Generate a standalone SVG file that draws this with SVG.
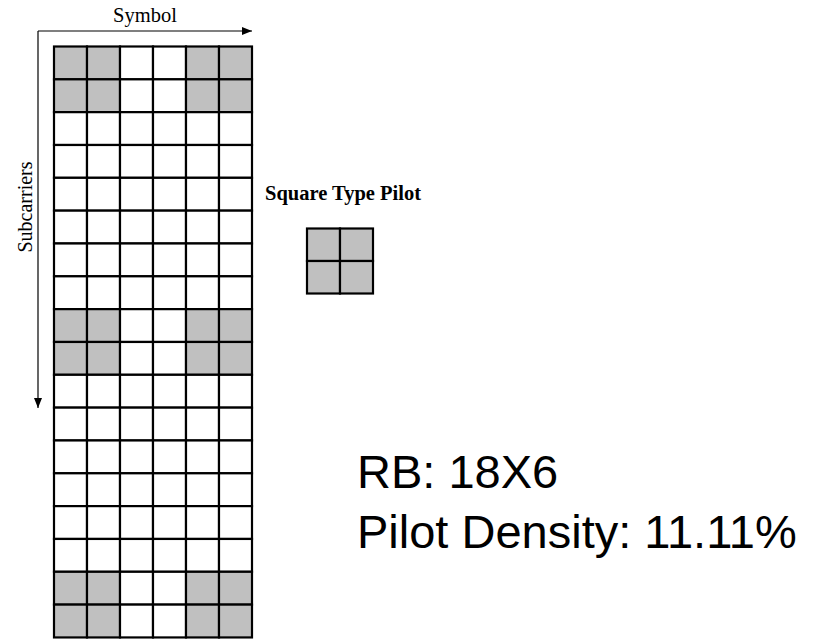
<svg xmlns="http://www.w3.org/2000/svg" width="840" height="639" viewBox="0 0 840 639">
<style>
.cell{stroke:#000;stroke-width:2.2}
.p{fill:#c0c0c0}
.w{fill:#fff}
.serif{font-family:"Liberation Serif","Times New Roman",serif;fill:#000}
.sans{font-family:"Liberation Sans",Arial,sans-serif;fill:#000}
.axis{stroke:#000;stroke-width:1.2;fill:none}
</style>
<defs>
<marker id="ah" markerWidth="10" markerHeight="8" refX="10" refY="4" orient="auto" markerUnits="userSpaceOnUse">
<path d="M0,0 L10,4 L0,8 Z" fill="#000"/>
</marker>
</defs>
<rect width="840" height="639" fill="#fff"/>
<g id="connectors">
<path class="axis" d="M38,31 H252" marker-end="url(#ah)"/>
<path class="axis" d="M38,31 V408" marker-end="url(#ah)"/>
</g>
<g id="labels">
<text class="serif" x="145" y="22" font-size="20.5" text-anchor="middle">Symbol</text>
<text class="serif" font-size="20" text-anchor="middle" transform="translate(32,207) rotate(-90)">Subcarriers</text>
</g>
<g id="rb-grid">
<g id="r0"><rect class="cell p" x="54" y="46.5" width="33" height="32.83"/><rect class="cell p" x="87" y="46.5" width="33" height="32.83"/><rect class="cell w" x="120" y="46.5" width="33" height="32.83"/><rect class="cell w" x="153" y="46.5" width="33" height="32.83"/><rect class="cell p" x="186" y="46.5" width="33" height="32.83"/><rect class="cell p" x="219" y="46.5" width="33" height="32.83"/></g>
<g id="r1"><rect class="cell p" x="54" y="79.33" width="33" height="32.83"/><rect class="cell p" x="87" y="79.33" width="33" height="32.83"/><rect class="cell w" x="120" y="79.33" width="33" height="32.83"/><rect class="cell w" x="153" y="79.33" width="33" height="32.83"/><rect class="cell p" x="186" y="79.33" width="33" height="32.83"/><rect class="cell p" x="219" y="79.33" width="33" height="32.83"/></g>
<g id="r2"><rect class="cell w" x="54" y="112.16" width="33" height="32.83"/><rect class="cell w" x="87" y="112.16" width="33" height="32.83"/><rect class="cell w" x="120" y="112.16" width="33" height="32.83"/><rect class="cell w" x="153" y="112.16" width="33" height="32.83"/><rect class="cell w" x="186" y="112.16" width="33" height="32.83"/><rect class="cell w" x="219" y="112.16" width="33" height="32.83"/></g>
<g id="r3"><rect class="cell w" x="54" y="144.99" width="33" height="32.83"/><rect class="cell w" x="87" y="144.99" width="33" height="32.83"/><rect class="cell w" x="120" y="144.99" width="33" height="32.83"/><rect class="cell w" x="153" y="144.99" width="33" height="32.83"/><rect class="cell w" x="186" y="144.99" width="33" height="32.83"/><rect class="cell w" x="219" y="144.99" width="33" height="32.83"/></g>
<g id="r4"><rect class="cell w" x="54" y="177.82" width="33" height="32.83"/><rect class="cell w" x="87" y="177.82" width="33" height="32.83"/><rect class="cell w" x="120" y="177.82" width="33" height="32.83"/><rect class="cell w" x="153" y="177.82" width="33" height="32.83"/><rect class="cell w" x="186" y="177.82" width="33" height="32.83"/><rect class="cell w" x="219" y="177.82" width="33" height="32.83"/></g>
<g id="r5"><rect class="cell w" x="54" y="210.65" width="33" height="32.83"/><rect class="cell w" x="87" y="210.65" width="33" height="32.83"/><rect class="cell w" x="120" y="210.65" width="33" height="32.83"/><rect class="cell w" x="153" y="210.65" width="33" height="32.83"/><rect class="cell w" x="186" y="210.65" width="33" height="32.83"/><rect class="cell w" x="219" y="210.65" width="33" height="32.83"/></g>
<g id="r6"><rect class="cell w" x="54" y="243.48" width="33" height="32.83"/><rect class="cell w" x="87" y="243.48" width="33" height="32.83"/><rect class="cell w" x="120" y="243.48" width="33" height="32.83"/><rect class="cell w" x="153" y="243.48" width="33" height="32.83"/><rect class="cell w" x="186" y="243.48" width="33" height="32.83"/><rect class="cell w" x="219" y="243.48" width="33" height="32.83"/></g>
<g id="r7"><rect class="cell w" x="54" y="276.31" width="33" height="32.83"/><rect class="cell w" x="87" y="276.31" width="33" height="32.83"/><rect class="cell w" x="120" y="276.31" width="33" height="32.83"/><rect class="cell w" x="153" y="276.31" width="33" height="32.83"/><rect class="cell w" x="186" y="276.31" width="33" height="32.83"/><rect class="cell w" x="219" y="276.31" width="33" height="32.83"/></g>
<g id="r8"><rect class="cell p" x="54" y="309.14" width="33" height="32.83"/><rect class="cell p" x="87" y="309.14" width="33" height="32.83"/><rect class="cell w" x="120" y="309.14" width="33" height="32.83"/><rect class="cell w" x="153" y="309.14" width="33" height="32.83"/><rect class="cell p" x="186" y="309.14" width="33" height="32.83"/><rect class="cell p" x="219" y="309.14" width="33" height="32.83"/></g>
<g id="r9"><rect class="cell p" x="54" y="341.97" width="33" height="32.83"/><rect class="cell p" x="87" y="341.97" width="33" height="32.83"/><rect class="cell w" x="120" y="341.97" width="33" height="32.83"/><rect class="cell w" x="153" y="341.97" width="33" height="32.83"/><rect class="cell p" x="186" y="341.97" width="33" height="32.83"/><rect class="cell p" x="219" y="341.97" width="33" height="32.83"/></g>
<g id="r10"><rect class="cell w" x="54" y="374.8" width="33" height="32.83"/><rect class="cell w" x="87" y="374.8" width="33" height="32.83"/><rect class="cell w" x="120" y="374.8" width="33" height="32.83"/><rect class="cell w" x="153" y="374.8" width="33" height="32.83"/><rect class="cell w" x="186" y="374.8" width="33" height="32.83"/><rect class="cell w" x="219" y="374.8" width="33" height="32.83"/></g>
<g id="r11"><rect class="cell w" x="54" y="407.63" width="33" height="32.83"/><rect class="cell w" x="87" y="407.63" width="33" height="32.83"/><rect class="cell w" x="120" y="407.63" width="33" height="32.83"/><rect class="cell w" x="153" y="407.63" width="33" height="32.83"/><rect class="cell w" x="186" y="407.63" width="33" height="32.83"/><rect class="cell w" x="219" y="407.63" width="33" height="32.83"/></g>
<g id="r12"><rect class="cell w" x="54" y="440.46" width="33" height="32.83"/><rect class="cell w" x="87" y="440.46" width="33" height="32.83"/><rect class="cell w" x="120" y="440.46" width="33" height="32.83"/><rect class="cell w" x="153" y="440.46" width="33" height="32.83"/><rect class="cell w" x="186" y="440.46" width="33" height="32.83"/><rect class="cell w" x="219" y="440.46" width="33" height="32.83"/></g>
<g id="r13"><rect class="cell w" x="54" y="473.29" width="33" height="32.83"/><rect class="cell w" x="87" y="473.29" width="33" height="32.83"/><rect class="cell w" x="120" y="473.29" width="33" height="32.83"/><rect class="cell w" x="153" y="473.29" width="33" height="32.83"/><rect class="cell w" x="186" y="473.29" width="33" height="32.83"/><rect class="cell w" x="219" y="473.29" width="33" height="32.83"/></g>
<g id="r14"><rect class="cell w" x="54" y="506.12" width="33" height="32.83"/><rect class="cell w" x="87" y="506.12" width="33" height="32.83"/><rect class="cell w" x="120" y="506.12" width="33" height="32.83"/><rect class="cell w" x="153" y="506.12" width="33" height="32.83"/><rect class="cell w" x="186" y="506.12" width="33" height="32.83"/><rect class="cell w" x="219" y="506.12" width="33" height="32.83"/></g>
<g id="r15"><rect class="cell w" x="54" y="538.95" width="33" height="32.83"/><rect class="cell w" x="87" y="538.95" width="33" height="32.83"/><rect class="cell w" x="120" y="538.95" width="33" height="32.83"/><rect class="cell w" x="153" y="538.95" width="33" height="32.83"/><rect class="cell w" x="186" y="538.95" width="33" height="32.83"/><rect class="cell w" x="219" y="538.95" width="33" height="32.83"/></g>
<g id="r16"><rect class="cell p" x="54" y="571.78" width="33" height="32.83"/><rect class="cell p" x="87" y="571.78" width="33" height="32.83"/><rect class="cell w" x="120" y="571.78" width="33" height="32.83"/><rect class="cell w" x="153" y="571.78" width="33" height="32.83"/><rect class="cell p" x="186" y="571.78" width="33" height="32.83"/><rect class="cell p" x="219" y="571.78" width="33" height="32.83"/></g>
<g id="r17"><rect class="cell p" x="54" y="604.61" width="33" height="32.83"/><rect class="cell p" x="87" y="604.61" width="33" height="32.83"/><rect class="cell w" x="120" y="604.61" width="33" height="32.83"/><rect class="cell w" x="153" y="604.61" width="33" height="32.83"/><rect class="cell p" x="186" y="604.61" width="33" height="32.83"/><rect class="cell p" x="219" y="604.61" width="33" height="32.83"/></g>
</g>
<g id="legend">
<text class="serif" x="265" y="200" font-size="20.5" font-weight="bold">Square Type Pilot</text>
<rect class="cell p" x="307" y="228.5" width="33" height="32.5"/>
<rect class="cell p" x="340" y="228.5" width="33" height="32.5"/>
<rect class="cell p" x="307" y="261" width="33" height="32.5"/>
<rect class="cell p" x="340" y="261" width="33" height="32.5"/>
</g>
<g id="info">
<text class="sans" x="357" y="488" font-size="47">RB: 18X6</text>
<text class="sans" x="357" y="548" font-size="47">Pilot Density: 11.11%</text>
</g>
</svg>
